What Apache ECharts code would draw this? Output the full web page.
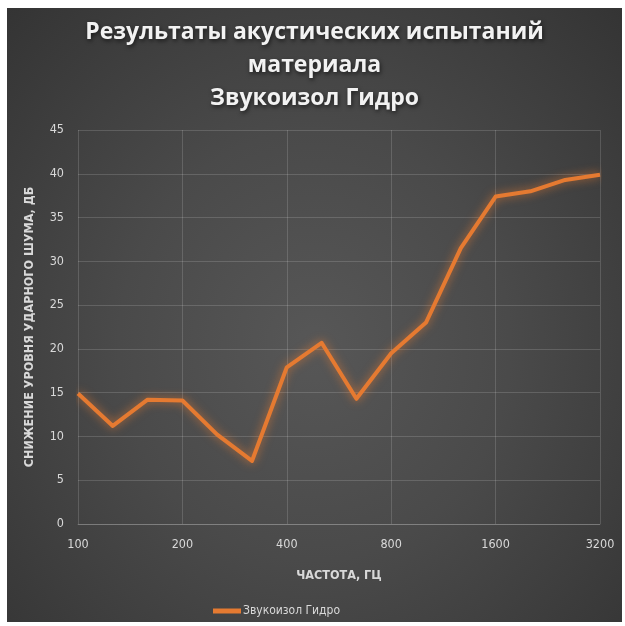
<!DOCTYPE html>
<html><head><meta charset="utf-8">
<script src="https://cdn.jsdelivr.net/npm/echarts@6/dist/echarts.min.js"></script>
<style>
html,body{margin:0;padding:0;background:#fff;width:625px;height:626px;overflow:hidden}
#c{position:absolute;left:7px;top:8px;width:615px;height:614px;
background:radial-gradient(ellipse at 50% 55%, #575757 0%, #4a4a4a 45%, #343434 100%);}
</style></head>
<body><div id="c"></div>
<script>
const categories = ['100','125','160','200','250','315','400','500','630','800','1000','1250','1600','2000','2500','3200'];
const values = [14.9, 11.2, 14.2, 14.1, 10.2, 7.2, 17.9, 20.7, 14.3, 19.5, 23.0, 31.5, 37.4, 38.0, 39.3, 39.9];
const seriesName = 'Звукоизол Гидро';
const titleText = 'Результаты акустических испытаний\nматериала\nЗвукоизол Гидро';
const xName = 'ЧАСТОТА, ГЦ';
const yName = 'СНИЖЕНИЕ УРОВНЯ УДАРНОГО ШУМА, ДБ';

const chart = echarts.init(document.getElementById('c'));
const narrow = "'Liberation Sans Narrow', 'DejaVu Sans Condensed', 'Open Sans', sans-serif";
chart.setOption({
  backgroundColor: 'transparent',
  animation: false,
  title: {
    text: titleText,
    left: 'center',
    top: 3,
    textStyle: {
      color: '#f2f2f2', fontSize: 23, fontWeight: 'bold', lineHeight: 33,
      fontFamily: "'Open Sans', sans-serif",
      textShadowColor: 'rgba(0,0,0,0.6)', textShadowBlur: 4, textShadowOffsetX: 1, textShadowOffsetY: 2
    }
  },
  grid: { left: 71, right: 22, top: 122, bottom: 98 },
  legend: {
    left: 201, top: 592,
    itemWidth: 28, itemHeight: 5, itemGap: 10,
    icon: 'rect',
    textStyle: { color: '#d9d9d9', fontSize: 12, fontFamily: narrow, padding: [0,0,0,-3] },
    data: [seriesName]
  },
  xAxis: {
    type: 'category',
    data: categories,
    boundaryGap: false,
    name: xName,
    nameLocation: 'middle',
    nameGap: 45,
    nameTextStyle: { color: '#d9d9d9', fontSize: 12.5, fontWeight: 'bold', fontFamily: narrow },
    axisLine: { show: true, lineStyle: { color: 'rgba(255,255,255,0.18)' } },
    axisTick: { show: false },
    axisLabel: { interval: 2, color: '#d9d9d9', fontSize: 12.5, margin: 14, fontFamily: narrow },
    splitLine: { show: true, interval: 2, lineStyle: { color: 'rgba(255,255,255,0.15)', width: 1 } }
  },
  yAxis: {
    type: 'value',
    min: 0, max: 45, interval: 5,
    name: yName,
    nameLocation: 'middle',
    nameGap: 42,
    nameTextStyle: { color: '#d9d9d9', fontSize: 12.5, fontWeight: 'bold', fontFamily: narrow },
    axisLine: { show: false },
    axisTick: { show: false },
    axisLabel: { color: '#d9d9d9', fontSize: 12.5, margin: 14, fontFamily: narrow },
    splitLine: { show: true, lineStyle: { color: 'rgba(255,255,255,0.15)', width: 1 } }
  },
  series: [{
    name: seriesName,
    type: 'line',
    data: values,
    symbol: 'none',
    color: '#e57a31',
    lineStyle: {
      color: '#e57a31', width: 4, join: 'round',
      shadowColor: 'rgba(237,125,49,0.75)', shadowBlur: 10
    }
  }]
});
</script></body></html>
